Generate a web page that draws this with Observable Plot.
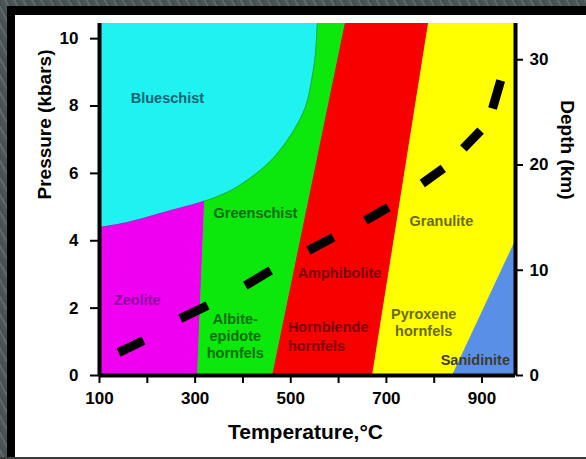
<!DOCTYPE html>
<html>
<head>
<meta charset="utf-8">
<script src="https://cdn.jsdelivr.net/npm/d3@7"></script>
<script src="https://cdn.jsdelivr.net/npm/@observablehq/plot@0.6"></script>
<style>
  html, body { margin: 0; padding: 0; }
  body {
    width: 586px; height: 459px; position: relative; overflow: hidden;
    background: repeating-linear-gradient(62deg, #4b5757 0px, #4b5757 3px, #5e6868 3px, #5e6868 5px, #465151 5px, #465151 8px);
    font-family: "Liberation Sans", Arial, sans-serif;
  }
  #frame { position: absolute; left: 7px; top: 6px; width: 579px; height: 451px; background: #000; }
  #panel { position: absolute; left: 15px; top: 15px; width: 571px; height: 442px; background: #fff; }
  #bottomline { position: absolute; left: 0; top: 457px; width: 586px; height: 2px; background: #3c3c3c; }
</style>
</head>
<body>
<div id="frame"></div>
<div id="panel"></div>
<div id="bottomline"></div>
<script>
// ---- Facies fields (Temperature °C, Pressure kbar) ----
// Blueschist lower boundary (curved), from the left edge up to the top edge
const blueschistT = [100, 158.6, 227.6, 325.2, 380.8, 436.7, 471.6, 506.3, 530.8, 544.8, 551.7, 555.3, 555.9];
const blueschistP = [4.39, 4.54, 4.81, 5.20, 5.54, 6.09, 6.58, 7.27, 7.97, 8.86, 9.55, 10.39, 10.45];

// Straight-edged fields (vertices; the parts under the blueschist field are hidden by it)
const zeoliteT = [100, 100, 325, 305];
const zeoliteP = [0, 7, 7, 0];

const greenschistT = [305, 325, 325, 614, 462];
const greenschistP = [0, 7, 10.45, 10.45, 0];

const amphiboliteT = [462, 614, 788, 671];
const amphiboliteP = [0, 10.45, 10.45, 0];

const granuliteT = [671, 788, 970, 970, 838];
const granuliteP = [0, 10.45, 10.45, 4.01, 0];

const sanidiniteT = [838, 970, 970];
const sanidiniteP = [0, 4.01, 0];

const fieldNames  = ["Zeolite", "Greenschist", "Amphibolite", "Granulite", "Sanidinite"];
const fieldColors = ["#F000F0", "#0CE80C", "#F80000", "#FFFF00", "#5A8FE8"];
const fieldT = [zeoliteT, greenschistT, amphiboliteT, granuliteT, sanidiniteT];
const fieldP = [zeoliteP, greenschistP, amphiboliteP, granuliteP, sanidiniteP];
const blueschistColor = "#20F2F2";
const pressureTop = 10.45;

// ---- Geotherm drawn as separate thick dashes (start/end points) ----
const geoDash = [1, 1, 2, 2, 3, 3, 4, 4, 5, 5, 6, 6, 7, 7, 8, 8];
const geoT = [140, 192, 269, 326, 405, 458, 537, 589, 656, 704, 775, 819, 861, 897, 922, 939];
const geoP = [0.68, 1.04, 1.69, 2.08, 2.67, 3.12, 3.71, 4.10, 4.60, 4.99, 5.70, 6.15, 6.74, 7.27, 7.93, 8.76];

// ---- Field labels ----
const labelText = ["Blueschist", "Greenschist", "Zeolite", "Albite-\nepidote\nhornfels", "Amphibolite",
                   "Hornblende\nhornfels", "Granulite", "Pyroxene\nhornfels", "Sanidinite"];
const labelT = [242, 426, 179, 384, 602, 494, 815, 778, 886];
const labelP = [8.25, 4.84, 2.26, 1.19, 3.06, 1.19, 4.60, 1.59, 0.48];
const labelColor = ["#0B6470", "#046E04", "#9000A0", "#046E04", "#7A0000", "#7A0000", "#6A6A00", "#6A6A00", "#3C3C30"];
const labelAnchor = ["middle", "middle", "middle", "middle", "middle", "start", "middle", "middle", "middle"];

// ---- Axes ----
const xTicks = [100, 200, 300, 400, 500, 600, 700, 800, 900];
const xTickLabels = [100, 300, 500, 700, 900];
const pressureTicks = [0, 2, 4, 6, 8, 10];
const depthTicks = [0, 10, 20, 30];
const kmPerKbar = 3.2;

const fieldMarks = fieldNames.map((name, i) => {
  const pts = fieldT[i].map((t, j) => ({T: t, P: fieldP[i][j]}));
  return Plot.line(pts, {x: "T", y: "P", fill: fieldColors[i], stroke: fieldColors[i], strokeWidth: 1});
});
const blueschistRows = blueschistT.map((t, i) => ({T: t, P: blueschistP[i]}));
const geoRows = geoT.map((t, i) => ({T: t, P: geoP[i], dash: geoDash[i]}));
const labelRows = labelText.map((s, i) => ({text: s, T: labelT[i], P: labelP[i], color: labelColor[i], anchor: labelAnchor[i]}));

const chart = Plot.plot({
  width: 571,
  height: 442,
  marginLeft: 84,
  marginRight: 71,
  marginTop: 8,
  marginBottom: 82,
  x: {domain: [100, 970]},
  y: {domain: [0, pressureTop]},
  style: {fontFamily: "'Liberation Sans', Arial, sans-serif", fontWeight: "bold", background: "white", color: "black", overflow: "visible"},
  marks: [
    ...fieldMarks,
    Plot.areaY(blueschistRows, {x: "T", y1: "P", y2: pressureTop, curve: "catmull-rom", fill: blueschistColor}),
    Plot.line(blueschistRows, {x: "T", y: "P", curve: "catmull-rom", stroke: "#2a6a8a", strokeWidth: 0.8, strokeOpacity: 0.6}),
    Plot.line(geoRows, {x: "T", y: "P", z: "dash", stroke: "black", strokeWidth: 9, strokeLinecap: "butt"}),
    Plot.text(labelRows.filter(d => d.anchor === "middle"), {x: "T", y: "P", text: "text", fill: "color", fontSize: 14.5, lineHeight: 1.2, textAnchor: "middle"}),
    Plot.text(labelRows.filter(d => d.anchor === "start"), {x: "T", y: "P", text: "text", fill: "color", fontSize: 14.5, lineHeight: 1.35, textAnchor: "start"}),
    Plot.ruleX([100, 970], {stroke: "black", strokeWidth: 4}),
    Plot.ruleY([0], {stroke: "black", strokeWidth: 4}),
    Plot.axisX({ticks: xTicks, tickFormat: d => xTickLabels.includes(d) ? String(d) : "", tickSize: 8, tickPadding: 8, fontSize: 17, strokeWidth: 2, label: null}),
    Plot.axisY({anchor: "left", ticks: pressureTicks, tickSize: 9, tickPadding: 12, fontSize: 17, strokeWidth: 2, label: null}),
    Plot.axisY({anchor: "right", ticks: depthTicks.map(d => d / kmPerKbar), tickFormat: p => String(Math.round(p * kmPerKbar)), tickSize: 7, tickPadding: 7, fontSize: 17, strokeWidth: 2, label: null}),
    Plot.text(["Temperature,°C"], {frameAnchor: "bottom", dy: 63, dx: -2, fontSize: 21, fill: "black"}),
    Plot.text(["Pressure (kbars)"], {frameAnchor: "left", dx: -55, rotate: -90, fontSize: 19, fill: "black"}),
    Plot.text(["Depth (km)"], {frameAnchor: "right", dx: 52, rotate: 90, fontSize: 19, fill: "black"})
  ]
});
chart.style.position = "absolute";
chart.style.left = "0px";
chart.style.top = "0px";
document.getElementById("panel").appendChild(chart);
</script>
</body>
</html>
